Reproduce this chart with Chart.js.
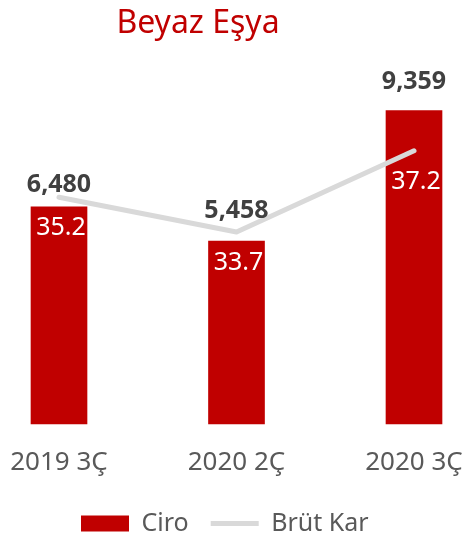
<!DOCTYPE html>
<html>
<head>
<meta charset="utf-8">
<script src="https://cdn.jsdelivr.net/npm/chart.js@4"></script>
<style>
  html, body { margin: 0; padding: 0; background: #fff; }
  #wrap { width: 465px; height: 536px; position: relative; }
</style>
</head>
<body>
<div id="wrap"><canvas id="beyazChart" width="465" height="536"></canvas></div>
<script>
// chart data
const categories = ['2019 3Ç', '2020 2Ç', '2020 3Ç'];
const ciro = [6480, 5458, 9359];
const brutKar = [35.2, 33.7, 37.2];
const chartTitle = 'Beyaz Eşya';

const RED = '#C00000';
const GREY_LINE = '#D9D9D9';
const FONT = "'Noto Sans', 'Open Sans', sans-serif";

// small nudges so the labels sit where Excel put them
const barLabelDy = [-22, -30, -29];
const lineLabelDy = 31;

const titlePlugin = {
  id: 'sideTitle',
  afterDraw(chart) {
    const c = chart.ctx;
    c.save();
    c.font = `32px ${FONT}`;
    c.fillStyle = RED;
    c.textAlign = 'center';
    c.textBaseline = 'alphabetic';
    c.fillText(chartTitle, 198, 33);
    c.restore();
  }
};

const valueLabels = {
  id: 'valueLabels',
  afterDatasetsDraw(chart) {
    const c = chart.ctx;
    c.save();
    c.textAlign = 'center';
    c.textBaseline = 'middle';
    chart.data.datasets.forEach((ds, di) => {
      const meta = chart.getDatasetMeta(di);
      meta.data.forEach((el, i) => {
        const v = ds.data[i];
        if (ds.type === 'bar') {
          c.font = `bold 25px ${FONT}`;
          c.fillStyle = '#404040';
          c.fillText(v.toLocaleString('en-US'), el.x, el.y + barLabelDy[i]);
        } else {
          c.font = `25px ${FONT}`;
          c.fillStyle = '#FFFFFF';
          c.fillText(v.toFixed(1), el.x + 2, el.y + lineLabelDy);
        }
      });
    });
    c.restore();
  }
};

const ctx = document.getElementById('beyazChart').getContext('2d');
const beyazChart = new Chart(ctx, {
  data: {
    labels: categories,
    datasets: [
      {
        type: 'bar',
        label: 'Ciro',
        data: ciro,
        backgroundColor: RED,
        borderWidth: 0,
        barThickness: 56,
        pointStyle: 'rect',
        yAxisID: 'y',
        clip: false,
        order: 1
      },
      {
        type: 'line',
        label: 'Brüt Kar',
        data: brutKar,
        borderColor: GREY_LINE,
        backgroundColor: GREY_LINE,
        borderWidth: 5,
        borderCapStyle: 'round',
        borderJoinStyle: 'round',
        pointRadius: 0,
        pointStyle: 'line',
        tension: 0,
        yAxisID: 'y1',
        clip: false,
        order: 0
      }
    ]
  },
  options: {
    responsive: false,
    animation: false,
    layout: { padding: { left: 59, right: 51, top: 89, bottom: -10 } },
    scales: {
      x: {
        offset: false,
        grid: { display: false, drawTicks: false },
        border: { display: false },
        ticks: { color: '#595959', font: { family: FONT, size: 26 }, padding: 23 },
        afterFit(scale) {
          scale.height = 65;
          scale.paddingLeft = 0;
          scale.paddingRight = 0;
        }
      },
      y: { display: false, min: 0, max: 10000 },
      y1: { display: false, position: 'right', min: 25.43, max: 39.86 }
    },
    plugins: {
      legend: {
        position: 'bottom',
        align: 'start',
        labels: {
          usePointStyle: true,
          pointStyleWidth: 48,
          boxHeight: 16,
          padding: 22,
          color: '#595959',
          font: { family: FONT, size: 25 },
          sort: (a, b) => a.datasetIndex - b.datasetIndex
        }
      },
      tooltip: { enabled: false }
    }
  },
  plugins: [valueLabels, titlePlugin]
});
</script>
</body>
</html>
